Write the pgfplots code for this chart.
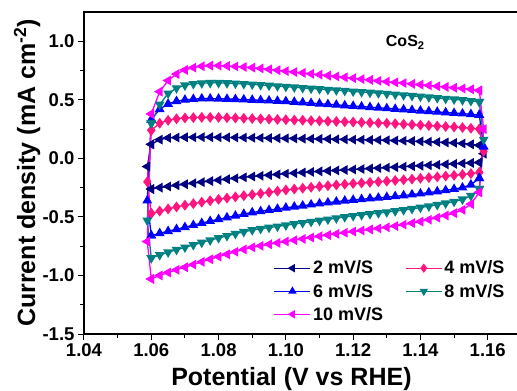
\documentclass[border=0pt]{standalone}
\usepackage{fontspec}
\setmainfont{Liberation Sans}
\usepackage{pgfplots}
\usepackage{pgfplotstable}
\pgfplotsset{compat=1.18}
\definecolor{c2}{HTML}{000080}
\definecolor{c4}{HTML}{FF1480}
\definecolor{c6}{HTML}{0000FF}
\definecolor{c8}{HTML}{008080}
\definecolor{c10}{HTML}{FF00FF}
\pgfplotstableread{
x u2 l2 u4 l4 u6 l6 u8 l8 u10 l10
1.0600 0.120 -0.262 0.240 -0.470 0.330 -0.660 0.300 -0.850 0.380 -1.030
1.0625 0.160 -0.250 0.300 -0.450 0.420 -0.640 0.460 -0.825 0.570 -1.000
1.0650 0.175 -0.240 0.325 -0.432 0.465 -0.622 0.555 -0.802 0.665 -0.975
1.0675 0.178 -0.230 0.338 -0.415 0.488 -0.605 0.600 -0.780 0.720 -0.952
1.0700 0.180 -0.221 0.345 -0.400 0.500 -0.588 0.624 -0.760 0.755 -0.930
1.0725 0.180 -0.212 0.348 -0.387 0.506 -0.570 0.636 -0.739 0.775 -0.907
1.0750 0.181 -0.203 0.350 -0.374 0.510 -0.553 0.642 -0.719 0.787 -0.884
1.0775 0.181 -0.194 0.350 -0.362 0.510 -0.536 0.645 -0.699 0.792 -0.862
1.0800 0.180 -0.186 0.349 -0.350 0.509 -0.520 0.645 -0.680 0.792 -0.840
1.0825 0.179 -0.178 0.347 -0.339 0.507 -0.505 0.643 -0.662 0.789 -0.819
1.0850 0.178 -0.170 0.345 -0.329 0.505 -0.490 0.640 -0.644 0.785 -0.798
1.0875 0.177 -0.162 0.342 -0.319 0.502 -0.475 0.636 -0.627 0.780 -0.778
1.0900 0.176 -0.155 0.340 -0.310 0.499 -0.462 0.632 -0.612 0.775 -0.760
1.0925 0.175 -0.149 0.337 -0.300 0.496 -0.452 0.627 -0.601 0.768 -0.747
1.0950 0.173 -0.143 0.335 -0.290 0.493 -0.442 0.622 -0.591 0.760 -0.734
1.0975 0.172 -0.137 0.332 -0.280 0.490 -0.432 0.617 -0.581 0.753 -0.722
1.1000 0.171 -0.131 0.330 -0.270 0.487 -0.422 0.612 -0.571 0.745 -0.710
1.1025 0.170 -0.126 0.327 -0.262 0.482 -0.413 0.607 -0.561 0.737 -0.699
1.1050 0.168 -0.121 0.325 -0.255 0.477 -0.404 0.602 -0.551 0.730 -0.688
1.1075 0.167 -0.116 0.322 -0.247 0.472 -0.395 0.597 -0.541 0.722 -0.676
1.1100 0.166 -0.111 0.320 -0.240 0.467 -0.386 0.592 -0.531 0.715 -0.665
1.1125 0.165 -0.107 0.317 -0.234 0.462 -0.378 0.587 -0.521 0.707 -0.655
1.1150 0.163 -0.103 0.315 -0.227 0.457 -0.370 0.582 -0.511 0.700 -0.645
1.1175 0.162 -0.099 0.312 -0.221 0.452 -0.362 0.577 -0.501 0.692 -0.635
1.1200 0.160 -0.095 0.310 -0.215 0.447 -0.355 0.572 -0.491 0.685 -0.625
1.1225 0.159 -0.091 0.307 -0.210 0.442 -0.349 0.567 -0.483 0.677 -0.616
1.1250 0.157 -0.087 0.305 -0.205 0.437 -0.343 0.562 -0.475 0.670 -0.607
1.1275 0.156 -0.083 0.302 -0.200 0.432 -0.337 0.557 -0.467 0.662 -0.598
1.1300 0.155 -0.079 0.300 -0.195 0.427 -0.331 0.552 -0.459 0.655 -0.589
1.1325 0.152 -0.075 0.296 -0.189 0.422 -0.324 0.546 -0.450 0.649 -0.578
1.1350 0.150 -0.071 0.292 -0.183 0.417 -0.317 0.540 -0.441 0.643 -0.566
1.1375 0.148 -0.067 0.288 -0.177 0.412 -0.309 0.534 -0.431 0.636 -0.553
1.1400 0.145 -0.063 0.284 -0.170 0.407 -0.301 0.528 -0.420 0.630 -0.540
1.1425 0.142 -0.059 0.280 -0.164 0.402 -0.292 0.522 -0.409 0.623 -0.524
1.1450 0.139 -0.055 0.276 -0.158 0.397 -0.283 0.516 -0.397 0.616 -0.507
1.1475 0.136 -0.051 0.272 -0.151 0.392 -0.273 0.510 -0.384 0.610 -0.488
1.1500 0.132 -0.047 0.268 -0.145 0.387 -0.262 0.504 -0.370 0.603 -0.468
1.1525 0.127 -0.043 0.263 -0.138 0.382 -0.250 0.498 -0.350 0.597 -0.440
1.1550 0.120 -0.039 0.257 -0.130 0.377 -0.225 0.491 -0.320 0.590 -0.390
1.1575 0.112 -0.035 0.250 -0.120 0.370 -0.170 0.483 -0.260 0.580 -0.290
}\cv
\pgfplotsset{
  s2/.style={color=c2, line width=1.3pt, mark=triangle*, mark size=4.4pt, mark options={rotate=90, solid}},
  s4/.style={color=c4, line width=1.3pt, mark=diamond*, mark size=4.4pt, mark options={solid}},
  s6/.style={color=c6, line width=1.3pt, mark=triangle*, mark size=4.4pt, mark options={solid}},
  s8/.style={color=c8, line width=1.3pt, mark=triangle*, mark size=4.4pt, mark options={rotate=180, solid}},
  s10/.style={color=c10, line width=1.3pt, mark=triangle*, mark size=4.4pt, mark options={rotate=90, solid}},
}
\begin{document}
\begin{tikzpicture}
\path[use as bounding box] (-84pt,-57pt) rectangle (433pt,334pt);
\begin{axis}[
  at={(0,0)}, anchor=south west,
  scale only axis, width=434pt, height=322pt,
  xmin=1.04, xmax=1.169, ymin=-1.5, ymax=1.25,
  xtick={1.04,1.06,1.08,1.10,1.12,1.14,1.16},
  ytick={-1.5,-1.0,-0.5,0,0.5,1.0},
  minor x tick num=1, minor y tick num=1,
  xtick pos=left, ytick pos=left,
  tick align=outside,
  major tick length=6pt, minor tick length=3.5pt,
  every tick/.style={black, line width=1pt},
  axis line style={line width=1.3pt},
  /pgf/number format/assume math mode=true,
  xticklabel style={font=\bfseries\fontsize{18.5}{20}\selectfont, /pgf/number format/.cd, fixed, fixed zerofill, precision=2},
  yticklabel style={font=\bfseries\fontsize{18.5}{20}\selectfont, /pgf/number format/.cd, fixed, fixed zerofill, precision=1},
  xlabel={Potential (V vs RHE)},
  ylabel={Current density (mA cm\textsuperscript{-2})},
  xlabel style={font=\bfseries\fontsize{25}{28}\selectfont, at={(axis description cs:0.478,-0.161)}, anchor=base},
  ylabel style={font=\bfseries\fontsize{25}{28}\selectfont, at={(axis description cs:-0.131,0.5)}, anchor=center},
  legend columns=2,
  legend style={at={(axis description cs:0.43,0.24)}, anchor=north west, draw=none, fill=none,
    font=\bfseries\fontsize{18}{20}\selectfont, row sep=4.5pt,
    /tikz/every even column/.append style={column sep=20pt}},
  legend cell align=left,
  legend image code/.code={\draw[mark repeat=2,mark phase=2, mark size=3.6pt] plot coordinates {(0pt,0pt) (18pt,0pt) (36pt,0pt)};},
]
% 2 mV/S
\addplot[s2] table[x=x,y=u2]{\cv};
\addlegendentry{2 mV/S}
\addplot[s2, forget plot] table[x=x,y=l2]{\cv};
\addplot[s2, forget plot] coordinates {(1.1575,0.112) (1.1588,0.04) (1.1575,-0.035)};
\addplot[s2, forget plot] coordinates {(1.0600,-0.262) (1.0588,-0.07) (1.0600,0.120)};
% 4 mV/S
\addplot[s4] table[x=x,y=u4]{\cv};
\addlegendentry{4 mV/S}
\addplot[s4, forget plot] table[x=x,y=l4]{\cv};
\addplot[s4, forget plot] coordinates {(1.1575,0.250) (1.1588,0.06) (1.1575,-0.120)};
\addplot[s4, forget plot] coordinates {(1.0600,-0.470) (1.0588,-0.20) (1.0600,0.240)};
% 6 mV/S
\addplot[s6] table[x=x,y=u6]{\cv};
\addlegendentry{6 mV/S}
\addplot[s6, forget plot] table[x=x,y=l6]{\cv};
\addplot[s6, forget plot] coordinates {(1.1575,0.370) (1.1588,0.10) (1.1575,-0.170)};
\addplot[s6, forget plot] coordinates {(1.0600,-0.660) (1.0588,-0.36) (1.0600,0.330)};
% 8 mV/S
\addplot[s8] table[x=x,y=u8]{\cv};
\addlegendentry{8 mV/S}
\addplot[s8, forget plot] table[x=x,y=l8]{\cv};
\addplot[s8, forget plot] coordinates {(1.1575,0.483) (1.1588,0.16) (1.1575,-0.260)};
\addplot[s8, forget plot] coordinates {(1.0600,-0.850) (1.0588,-0.53) (1.0600,0.300)};
% 10 mV/S
\addplot[s10] table[x=x,y=u10]{\cv};
\addlegendentry{10 mV/S}
\addplot[s10, forget plot] table[x=x,y=l10]{\cv};
\addplot[s10, forget plot] coordinates {(1.1575,0.580) (1.1588,0.25) (1.1575,-0.290)};
\addplot[s10, forget plot] coordinates {(1.0600,-1.030) (1.0588,-0.71) (1.0600,0.380)};
\node[font=\bfseries\fontsize{16}{18}\selectfont] at (axis cs:1.1355,0.99) {CoS\textsubscript{2}};
\end{axis}
\end{tikzpicture}
\end{document}
